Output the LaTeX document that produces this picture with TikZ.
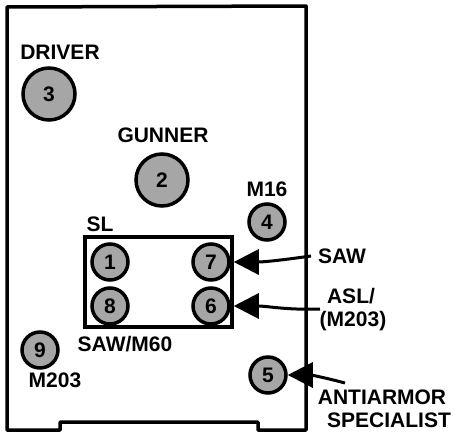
\documentclass[tikz,border=0pt]{standalone}
\usepackage{fontspec}
\setmainfont{Liberation Sans}
\usetikzlibrary{arrows.meta}
\begin{document}
\begin{tikzpicture}[x=1pt,y=-1pt,
  lbl/.style={font=\fontsize{21}{21}\selectfont\bfseries, inner sep=0pt, anchor=center},
  bigc/.style={circle, draw, line width=3.5pt, fill=black!35, minimum size=52pt, inner sep=0pt, font=\fontsize{21}{21}\selectfont\bfseries},
  smallc/.style={circle, draw, line width=3.5pt, fill=black!35, minimum size=36pt, inner sep=0pt, font=\fontsize{21}{21}\selectfont\bfseries},
  arr/.style={line width=3pt, -{Triangle[length=25pt,width=25pt]}}]
\useasboundingbox (0,0) rectangle (455,434);
% frame
\draw[line width=3.5pt, line join=round] (7,7) -- (306,6) -- (306,430) -- (258,430) -- (258,422) -- (60,422) -- (60,430) -- (7,430) -- cycle;
% squad leader box
\node[draw, line width=3.5pt, minimum width=147pt, minimum height=90pt, inner sep=0pt] (box) at (158.5,282) {};
% circles
\node[bigc] (n3) at (49,94) {3};
\node[bigc] (n2) at (162,180) {2};
\node[smallc] (n4) at (267,222) {4};
\node[smallc] (n1) at (110,262) {1};
\node[smallc] (n7) at (211,262) {7};
\node[smallc] (n8) at (110,306) {8};
\node[smallc] (n6) at (211,306) {6};
\node[smallc] (n9) at (40,350) {9};
\node[smallc] (n5) at (268,375) {5};
% labels
\node[lbl] (tdriver) at (60,52) {DRIVER};
\node[lbl] (tgunner) at (163,135) {GUNNER};
\node[lbl] (tm16) at (267,189) {M16};
\node[lbl] (tsl) at (100,224) {SL};
\node[lbl] (tsaw) at (342,256) {SAW};
\node[lbl] (tasl) at (351,296) {ASL/};
\node[lbl] (tm203b) at (353,321) {(M203)};
\node[lbl] (tsawm60) at (125,344) {SAW/M60};
\node[lbl] (tm203) at (55,380) {M203};
\node[lbl] (taa) at (382,397) {ANTIARMOR};
\node[lbl] (tspec) at (389,420) {SPECIALIST};
% arrows
\coordinate (sawS) at (311,256);
\coordinate (aslS) at (320,309);
\coordinate (aaS) at (345,383);
\draw[arr] (sawS) to[out=188,in=0] (n7 -| box.east);
\draw[arr] (aslS) to[out=182,in=0] (n6 -| box.east);
\draw[arr] (aaS) to[out=165,in=0] (n5);
\end{tikzpicture}
\end{document}
